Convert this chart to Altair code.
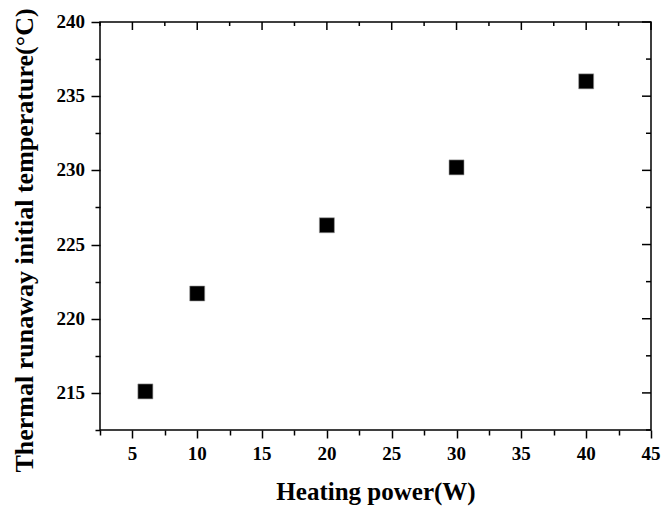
import altair as alt
import pandas as pd

# Data
power = [6, 10, 20, 30, 40]
temp = [215.1, 221.7, 226.3, 230.2, 236.0]

x_major = [5, 10, 15, 20, 25, 30, 35, 40, 45]
x_minor = [2.5, 7.5, 12.5, 17.5, 22.5, 27.5, 32.5, 37.5, 42.5]
y_major = [215, 220, 225, 230, 235, 240]
y_minor = [212.5, 217.5, 222.5, 227.5, 232.5, 237.5]

x_title = "Heating power(W)"
y_title = "Thermal runaway initial temperature(°C)"

df = pd.DataFrame({"power": power, "temp": temp})
xmaj = pd.DataFrame({"power": x_major})
xmin = pd.DataFrame({"power": x_minor})
ymaj = pd.DataFrame({"temp": y_major})
ymin = pd.DataFrame({"temp": y_minor})

FONT = "Liberation Serif"
W, H = 551, 408

xs = alt.Scale(domain=[2.5, 45], nice=False, zero=False)
ys = alt.Scale(domain=[212.5, 240], nice=False, zero=False)

minor_test = "datum.value % 5 != 0"

axis_style = dict(
    domain=False, grid=False, tickColor="black", tickWidth=1.5, labels=False,
    titleFont=FONT, titleFontWeight="bold", titleColor="black",
    titleBaseline="alphabetic", titleAlign="center",
)

x_enc = alt.X("power:Q", scale=xs, title=x_title,
              axis=alt.Axis(orient="bottom", values=x_major + x_minor,
                            tickSize={"condition": {"test": minor_test, "value": 5}, "value": 8},
                            titleFontSize=25, titleX=W / 2, titleY=69,
                            **axis_style))
y_enc = alt.Y("temp:Q", scale=ys, title=y_title,
              axis=alt.Axis(orient="left", values=y_major + y_minor,
                            tickSize={"condition": {"test": minor_test, "value": 5}, "value": 9},
                            titleFontSize=26, titleAngle=270,
                            titleX=-68, titleY=218, **axis_style))

points = alt.Chart(df).mark_square(size=225, color="black", opacity=1,
                                   stroke="#9a9a9a", strokeWidth=0.6).encode(x=x_enc, y=y_enc)

def top_ticks(d, length):
    return alt.Chart(d).mark_rule(color="black", strokeWidth=1.5).encode(
        x=x_enc, y=alt.value(0), y2=alt.value(length))

def right_ticks(d, length):
    return alt.Chart(d).mark_rule(color="black", strokeWidth=1.5).encode(
        y=y_enc, x=alt.value(W - length), x2=alt.value(W))

label_style = dict(font=FONT, fontWeight="bold", fontSize=19, color="black")

x_labels = alt.Chart(xmaj).mark_text(align="center", baseline="alphabetic", **label_style).encode(
    x=x_enc, y=alt.value(H + 30), text=alt.Text("power:Q"))

y_labels = alt.Chart(ymaj).mark_text(align="right", baseline="middle", **label_style).encode(
    y=y_enc, x=alt.value(-15), text=alt.Text("temp:Q"))

chart = alt.layer(
    points,
    top_ticks(xmaj, 8), top_ticks(xmin, 4),
    right_ticks(ymaj, 9), right_ticks(ymin, 5),
    x_labels, y_labels,
).properties(
    width=W, height=H,
    autosize=alt.AutoSizeParams(type="none"),
    padding={"left": 100, "top": 22, "right": 11, "bottom": 76},
    background="white",
).configure_view(
    stroke="black", strokeWidth=1.5
)

chart.save("out.html", embed_options={"renderer": "svg", "actions": False})
